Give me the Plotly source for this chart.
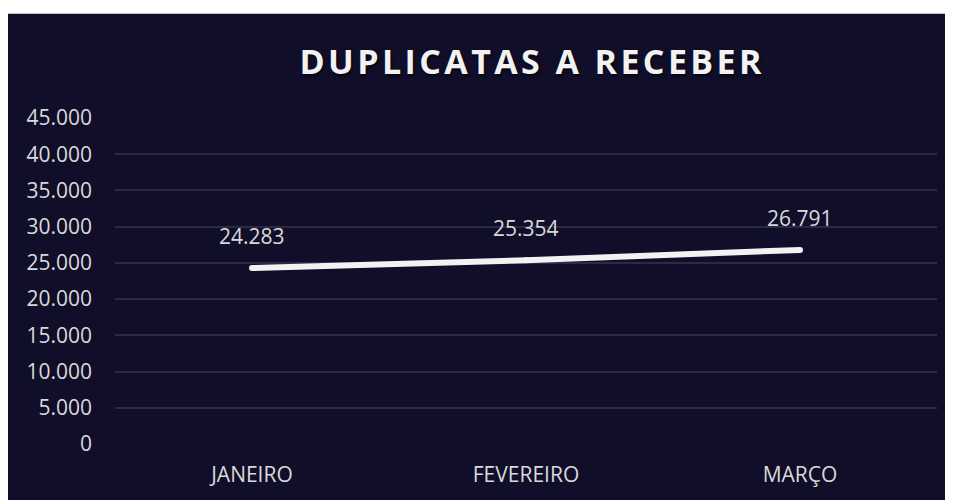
import plotly.graph_objects as go

categories = ["JANEIRO", "FEVEREIRO", "MARÇO"]
values = [24283, 25354, 26791]
labels = ["24.283", "25.354", "26.791"]
tick_vals = [0, 5000, 10000, 15000, 20000, 25000, 30000, 35000, 40000, 45000]
tick_text = ["0", "5.000", "10.000", "15.000", "20.000", "25.000", "30.000", "35.000", "40.000", "45.000"]
title_text = "DUPLICATAS A RECEBER"

W, H = 945, 492
ML, MR, MT, MB = 107, 16, 110, 54
PW, PH = W - ML - MR, H - MT - MB

BG = "#110e2a"
GRID = "#2c2944"
TXT = "#d9d9d9"
FONT = "Open Sans"

spaced_title = "\u200a".join(list(title_text))

fig = go.Figure()
fig.add_trace(go.Scatter(
    x=categories, y=values, mode="lines+markers",
    line=dict(color="#f2f2f2", width=6),
    marker=dict(color="#f2f2f2", size=6),
    hoverinfo="skip", showlegend=False,
))

for c, v, t in zip(categories, values, labels):
    fig.add_annotation(x=c, y=v, text=t, showarrow=False, yshift=32,
                       font=dict(family=FONT, size=21, color=TXT))

# thin white strip at top (reference shows extra top margin)
fig.add_shape(type="rect", xref="paper", yref="paper",
              x0=-ML / PW - 0.1, x1=1 + MR / PW + 0.1, y0=1 + (MT - 5) / PH, y1=1 + MT / PH + 0.1,
              fillcolor="white", line=dict(width=0), layer="above")

fig.update_layout(
    width=W, height=H,
    margin=dict(l=ML, r=MR, t=MT, b=MB),
    paper_bgcolor=BG, plot_bgcolor=BG,
    title=dict(text="<b>" + spaced_title + "</b>", x=522.5 / W, xref="container", xanchor="center",
               y=1 - 54 / H, yref="container", yanchor="middle",
               font=dict(family=FONT, size=34, color="#f2f2f2",
                         shadow="1px 2px 3px rgba(0,0,0,0.7)")),
    xaxis=dict(showgrid=False, zeroline=False, showline=False, ticks="",
               range=[-0.5, 2.5], ticklabelstandoff=16,
               tickfont=dict(family=FONT, size=21, color=TXT)),
    yaxis=dict(range=[0, 45000], tickvals=tick_vals, ticktext=tick_text,
               showgrid=True, gridcolor=GRID, gridwidth=2, zeroline=False, showline=False,
               ticks="", ticklabelstandoff=22,
               tickfont=dict(family=FONT, size=21, color=TXT)),
)

fig.write_html("out.html",
               post_script="document.documentElement.style.overflow='hidden';")
